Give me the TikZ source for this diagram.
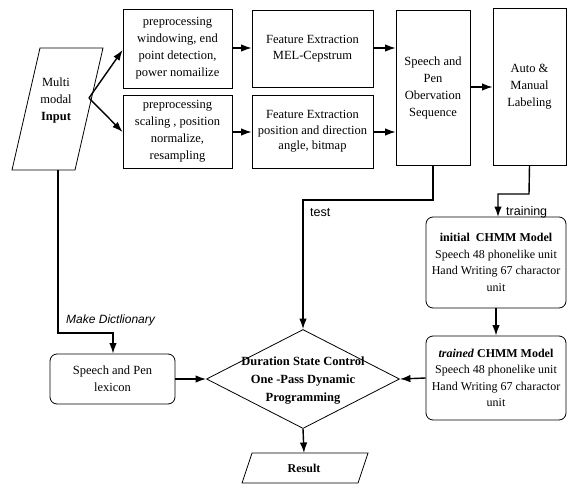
\documentclass[tikz,border=0pt]{standalone}
\usepackage{fontspec}
\setmainfont{Liberation Serif}
\newfontfamily\sansf{Liberation Sans}
\usetikzlibrary{arrows.meta,shapes.geometric}
\begin{document}
\begin{tikzpicture}[x=1pt,y=-1pt,
  box/.style={draw,line width=0.8pt,align=center,inner sep=0pt,font=\fontsize{12.5}{17}\selectfont},
  rbox/.style={box,rounded corners=7pt},
  conn/.style={line width=1.4pt,-{Latex[length=10.5pt,width=7.5pt]}},
  lbl/.style={font=\sansf\fontsize{12.5}{14}\selectfont,inner sep=0pt}]
\useasboundingbox (0,0) rectangle (567,487);
% Multi modal input (parallelogram)
\draw[line width=0.8pt] (40,48) -- (103,48) -- (75,170) -- (12,170) -- cycle;
\node[align=center,font=\fontsize{12.5}{17}\selectfont] (multi) at (56,100) {Multi\\modal\\\textbf{Input}};
\coordinate (mout) at (89,98);
\coordinate (mbot) at (58,170);
% preprocessing boxes
\node[box,minimum width=109,minimum height=79] (pre1) at (177.5,48.5) {preprocessing\\windowing, end\\point detection,\\power nomailize};
\node[box,minimum width=109,minimum height=73] (pre2) at (177.5,131.5) {preprocessing\\scaling , position\\normalize,\\resampling};
% feature extraction
\node[box,minimum width=121,minimum height=77,font=\fontsize{12.5}{15.5}\selectfont] (fe1) at (312.5,48.5) {Feature Extraction\\MEL-Cepstrum};
\node[box,minimum width=121,minimum height=73,font=\fontsize{12.5}{15.5}\selectfont] (fe2) at (312.5,131.5) {Feature Extraction\\position and direction\\angle, bitmap};
% observation sequence
\node[box,minimum width=74,minimum height=155] (obs) at (433,87.5) {Speech and\\Pen\\Obervation\\Sequence};
% labeling
\node[box,minimum width=73,minimum height=157] (auto) at (529.5,86.5) {Auto \&\\Manual\\Labeling};
% CHMM models
\node[rbox,minimum width=140,minimum height=91,font=\fontsize{12}{16.5}\selectfont] (init) at (496,262.5) {\textbf{initial\ \ CHMM Model}\\Speech 48 phonelike unit\\Hand Writing 67 charactor\\unit};
\node[rbox,minimum width=140,minimum height=84,font=\fontsize{12}{16.5}\selectfont] (trained) at (496,378) {\textbf{\textit{trained} CHMM Model}\\Speech 48 phonelike unit\\Hand Writing 67 charactor\\unit};
% decision diamond
\node[draw,line width=0.8pt,diamond,aspect=1.95,minimum width=193,minimum height=99,inner sep=0pt] (dp) at (303,379) {};
\node[align=center,font=\bfseries\fontsize{12.5}{18}\selectfont] (dptext) at (303,381) {Duration State Control\\One -Pass Dynamic\\Programming};
% lexicon
\node[rbox,minimum width=125,minimum height=50] (lex) at (112.5,379) {Speech and Pen\\lexicon};
% result
\draw[line width=0.8pt] (252,453) -- (368,453) -- (358,483) -- (242,483) -- cycle;
\node[font=\bfseries\fontsize{12}{14}\selectfont] (res) at (304,468) {Result};
\coordinate (restop) at (304,453);
% connectors
\draw[conn] (mout) -- (pre1.west |- 0,50);
\draw[conn] (mout) -- (pre2.west |- 0,132);
\draw[conn] (pre1.east |- 0,48) -- (fe1.west |- 0,48);
\draw[conn] (pre2.east |- 0,132) -- (fe2.west |- 0,132);
\draw[conn] (fe1.east |- 0,48) -- (obs.west |- 0,48);
\draw[conn] (fe2.east |- 0,132) -- (obs.west |- 0,132);
\draw[conn] (obs.east |- 0,87) -- (auto.west |- 0,87);
\draw[conn] (obs.south) -- (433,200) -- (303,200) -- (dp.north);
\draw[conn] (auto.south) -- (529,194) -- (498,194) -- (498,217);
\draw[conn] (init.south) -- (trained.north);
\draw[conn] (trained.west) -- (dp.east);
\draw[conn] (lex.east) -- (dp.west);
\draw[conn] (dp.south) -- (restop);
\draw[conn] (mbot) -- (58,333) -- (113,333) -- (lex.north -| 113,0);
% labels
\node[lbl,anchor=west] (ltest) at (310,213) {test};
\node[lbl,anchor=west] (ltrain) at (506,212) {training};
\node[lbl,anchor=west,font=\sansf\itshape\fontsize{12}{14}\selectfont] (ldict) at (66,320) {Make Dictlionary};
\end{tikzpicture}
\end{document}
